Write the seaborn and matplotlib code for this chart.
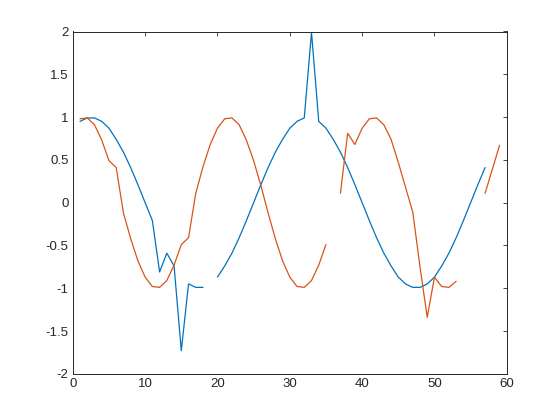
import numpy as np
import pandas as pd
import matplotlib
matplotlib.use("Agg")
import matplotlib.pyplot as plt
import seaborn as sns

# values (NaN = gap in the line)
nan = np.nan
x = list(range(1, 60))

blue = [0.95, 0.99, 0.99, 0.95, 0.87, 0.74, 0.59, 0.41, 0.21, 0.0,
        -0.21, -0.81, -0.59, -0.74, -1.73, -0.95, -0.99, -0.99, nan, -0.87,
        -0.74, -0.59, -0.41, -0.21, 0.0, 0.21, 0.41, 0.59, 0.74, 0.87,
        0.95, 0.99, 1.99, 0.95, 0.87, 0.74, 0.59, 0.41, 0.21, 0.0,
        -0.21, -0.41, -0.59, -0.74, -0.87, -0.95, -0.99, -0.99, -0.95, -0.87,
        -0.74, -0.59, -0.41, -0.21, 0.0, 0.21, 0.41, nan, nan]

orange = [0.98, 0.99, 0.91, 0.73, 0.49, 0.41, -0.12, -0.42, -0.68, -0.87,
          -0.98, -0.99, -0.91, -0.73, -0.49, -0.41, 0.11, 0.42, 0.68, 0.87,
          0.98, 0.99, 0.91, 0.73, 0.49, 0.2, -0.12, -0.42, -0.68, -0.87,
          -0.98, -0.99, -0.91, -0.73, -0.49, nan, 0.11, 0.81, 0.68, 0.87,
          0.98, 0.99, 0.91, 0.74, 0.47, 0.18, -0.11, -0.75, -1.34, -0.87,
          -0.98, -0.99, -0.92, nan, nan, nan, 0.11, 0.39, 0.67]

colors = {"a": "#0072BD", "b": "#D95319"}

# long table; each unbroken run gets its own unit so NaN leaves a gap
rows = []
seg = 0
for name, vals in (("a", blue), ("b", orange)):
    prev_nan = True
    for xi, yi in zip(x, vals):
        if np.isnan(yi):
            prev_nan = True
            continue
        if prev_nan:
            seg += 1
            prev_nan = False
        rows.append({"x": xi, "y": yi, "series": name, "seg": seg})
df = pd.DataFrame(rows)

sns.set_style("white")
plt.rcParams["font.family"] = ["Liberation Sans", "DejaVu Sans"]
plt.rcParams["axes.unicode_minus"] = False

fig = plt.figure(figsize=(5.6, 4.2), dpi=100)
ax = fig.add_axes([0.13, 0.11, 0.775, 0.815])

sns.lineplot(data=df, x="x", y="y", hue="series", units="seg", estimator=None,
             palette=colors, linewidth=0.9, legend=False, ax=ax, sort=False)

ax.set_xlim(0, 60)
ax.set_ylim(-2, 2)
ax.set_xticks([0, 10, 20, 30, 40, 50, 60])
ax.set_yticks([-2, -1.5, -1, -0.5, 0, 0.5, 1, 1.5, 2])
ax.set_yticklabels(["-2", "-1.5", "-1", "-0.5", "0", "0.5", "1", "1.5", "2"])
ax.set_xlabel("")
ax.set_ylabel("")
ax.tick_params(direction="in", top=True, right=True, length=3, width=0.6,
               labelsize=9.5, colors="#262626", pad=3)
for s in ax.spines.values():
    s.set_color("#262626")
    s.set_linewidth(0.7)

fig.savefig("out.png", dpi=100, facecolor="white")
